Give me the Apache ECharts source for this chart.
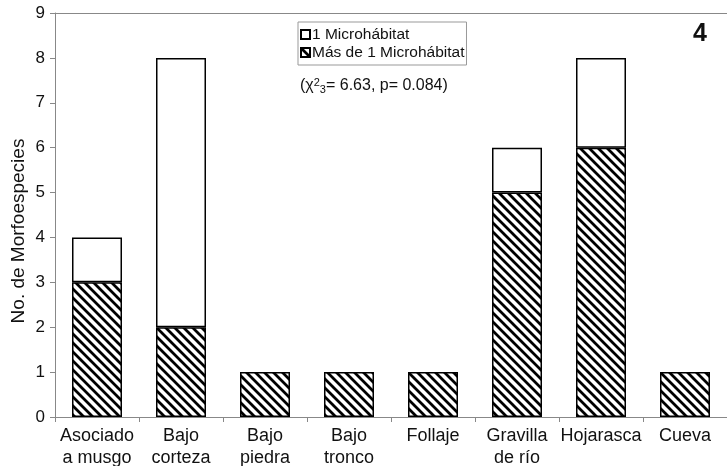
<!DOCTYPE html>
<html>
<head>
<meta charset="utf-8">
<script src="https://cdn.jsdelivr.net/npm/echarts@6/dist/echarts.min.js"></script>
<style>
html,body{margin:0;padding:0;background:#fff;}
#chart{width:727px;height:466px;}
</style>
</head>
<body>
<div id="chart"></div>
<script>
var categories = ["Asociado\na musgo", "Bajo\ncorteza", "Bajo\npiedra", "Bajo\ntronco", "Follaje", "Gravilla\nde río", "Hojarasca", "Cueva"];
var masDeUno = [3, 2, 1, 1, 1, 5, 6, 1];
var unMicro = [1, 6, 0, 0, 0, 1, 2, 0];
var yTicks = [0, 1, 2, 3, 4, 5, 6, 7, 8, 9];

function makeHatch() {
  var c = document.createElement('canvas');
  var s = 9;
  c.width = s; c.height = s;
  var ctx = c.getContext('2d');
  ctx.fillStyle = '#fff';
  ctx.fillRect(0, 0, s, s);
  ctx.strokeStyle = '#000';
  ctx.lineWidth = 2.8;
  ctx.beginPath();
  for (var k = -1; k <= 1; k++) {
    ctx.moveTo(k * s - 1, -1);
    ctx.lineTo(k * s + s + 1, s + 1);
  }
  ctx.stroke();
  return c;
}
var hatch = { image: makeHatch(), repeat: 'repeat' };

var font = '"Liberation Sans", Arial, sans-serif';
var chart = echarts.init(document.getElementById('chart'), null, { renderer: 'canvas' });
chart.setOption({
  animation: false,
  backgroundColor: '#fff',
  grid: { left: 55, right: 0, top: 13, bottom: 49, containLabel: false, outerBoundsMode: 'none' },
  legend: {
    orient: 'vertical',
    left: 298, top: 22,
    data: ['1 Microhábitat', 'Más de 1 Microhábitat'],
    borderColor: '#999', borderWidth: 1,
    padding: [4, 2, 4, 2],
    itemWidth: 9, itemHeight: 9, itemGap: 1,
    icon: 'rect',
    textStyle: { fontFamily: font, fontSize: 15.5, lineHeight: 17, color: '#111', padding: [0, 0, 0, -3] }
  },
  xAxis: [{
    type: 'category',
    data: categories,
    axisLine: { lineStyle: { color: '#888', width: 1 } },
    axisTick: { show: true, alignWithLabel: false, length: 5, lineStyle: { color: '#888' } },
    axisLabel: { fontFamily: font, fontSize: 18, color: '#111', lineHeight: 22, margin: 8, interval: 0 }
  }, {
    type: 'category',
    data: categories,
    position: 'top',
    axisLine: { show: true, lineStyle: { color: '#888', width: 1 } },
    axisTick: { show: false },
    axisLabel: { show: false }
  }],
  yAxis: {
    type: 'value',
    min: 0, max: 9, interval: 1,
    name: 'No. de Morfoespecies',
    nameLocation: 'middle',
    nameGap: 27,
    nameMoveOverlap: false,
    nameTextStyle: { fontFamily: font, fontSize: 19, color: '#111', padding: [0, 32, 0, 0] },
    axisLine: { show: true, lineStyle: { color: '#888', width: 1 } },
    axisTick: { show: true, length: 5, lineStyle: { color: '#888' } },
    splitLine: { show: false },
    axisLabel: { fontFamily: font, fontSize: 17, color: '#111', margin: 10 }
  },
  series: [{
    name: 'Más de 1 Microhábitat',
    type: 'bar',
    stack: 'a',
    barWidth: 50,
    data: masDeUno,
    itemStyle: { color: hatch, borderColor: '#000', borderWidth: 1.5 }
  }, {
    name: '1 Microhábitat',
    type: 'bar',
    stack: 'a',
    barWidth: 50,
    data: unMicro.map(function (v) { return v === 0 ? null : v; }),
    itemStyle: { color: '#fff', borderColor: '#000', borderWidth: 1.5 }
  }],
  graphic: [{
    type: 'text',
    left: 300, top: 77,
    style: {
      text: '(χ{sup|2}{sub|3}= 6.63, p= 0.084)',
      rich: {
        sup: { fontFamily: font, fontSize: 11, verticalAlign: 'top', padding: [0, 0, 7, 0], fill: '#111' },
        sub: { fontFamily: font, fontSize: 11, verticalAlign: 'bottom', padding: [7, 0, 0, 0], fill: '#111' }
      },
      fontFamily: font, fontSize: 16, fill: '#111'
    }
  }, {
    type: 'text',
    left: 693, top: 22,
    style: { text: '4', fontFamily: font, fontSize: 25, fontWeight: 'bold', fill: '#111' }
  }]
});
</script>
</body>
</html>
